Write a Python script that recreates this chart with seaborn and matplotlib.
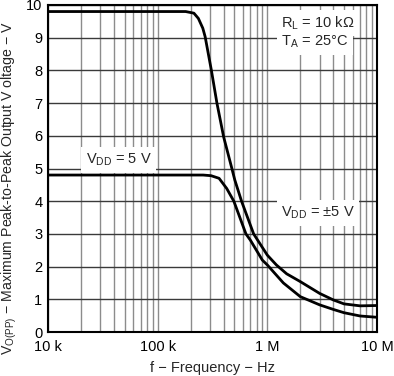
import numpy as np
import pandas as pd
import matplotlib.pyplot as plt
import seaborn as sns

# curve values (frequency in Hz, voltage in V)
# VDD = +/-5 V
freq_pm5 = [1e4, 5e4, 1.0e5, 1.8e5, 2.14e5, 2.35e5, 2.58e5, 2.71e5, 3.09e5, 3.47e5, 4.0e5,
            4.75e5, 5.05e5, 5.82e5, 7.5e5, 1.0e6, 1.21e6, 1.5e6, 2.0e6, 3.0e6, 4.0e6, 5.0e6,
            7.0e6, 1e7]
vpp_pm5 = [9.8, 9.8, 9.8, 9.8, 9.75, 9.59, 9.29, 9.03, 8.0, 7.0, 5.96,
           5.0, 4.65, 4.0, 3.0, 2.35, 2.05, 1.78, 1.54, 1.18, 0.98, 0.86,
           0.80, 0.81]

# VDD = 5 V
freq_5 = [1e4, 5e4, 1.0e5, 2.6e5, 3.07e5, 3.63e5, 4.26e5, 4.95e5, 6.38e5, 7.0e5, 9.0e5,
          1.0e6, 1.4e6, 2.0e6, 3.0e6, 4.0e6, 5.0e6, 7.0e6, 1e7]
vpp_5 = [4.8, 4.8, 4.8, 4.8, 4.78, 4.7, 4.39, 4.0, 3.0, 2.81, 2.2,
         2.05, 1.5, 1.08, 0.83, 0.69, 0.59, 0.49, 0.45]

df = pd.concat([
    pd.DataFrame({'f': freq_pm5, 'v': vpp_pm5, 'supply': 'pm5'}),
    pd.DataFrame({'f': freq_5, 'v': vpp_5, 'supply': '5'}),
])

sns.set_style('white')
plt.rcParams['font.family'] = ['Liberation Sans', 'DejaVu Sans']

fig = plt.figure(figsize=(3.94, 3.76), dpi=100)
ax = fig.add_axes([48 / 394, 1 - 332 / 376, 329 / 394, 327 / 376])

sns.lineplot(data=df, x='f', y='v', hue='supply', palette=['black', 'black'],
             linewidth=2, legend=False, ax=ax, sort=False, zorder=3)

ax.set_xscale('log')
ax.set_xlim(1e4, 1e7)
ax.set_ylim(0, 10)
ax.set_yticks(range(0, 11))
ax.set_xticks([1e4, 1e5, 1e6, 1e7])
ax.set_xticklabels(['10 k', '100 k', '1 M', '10 M'])
ax.xaxis.set_minor_locator(plt.matplotlib.ticker.LogLocator(base=10, subs=np.arange(2, 10)))
ax.xaxis.set_minor_formatter(plt.NullFormatter())
ax.grid(True, which='both', axis='x', color='#8c8c8c', linewidth=1)
ax.grid(True, which='major', axis='y', color='#3a3a3a', linewidth=1)
ax.tick_params(which='both', length=0, labelsize=10.5, colors='black')
ax.tick_params(axis='x', pad=6)
ax.tick_params(axis='y', pad=4)
for s in ax.spines.values():
    s.set_color('black')
    s.set_linewidth(1.5)

ax.set_xlabel('f − Frequency − Hz', fontsize=10.5, labelpad=5)
ax.set_ylabel('V$_{\\mathregular{O(PP)}}$ − Maximum Peak-to-Peak Output V oltage − V', fontsize=10.2)
ax.yaxis.set_label_coords(-0.088, 0.44)

box = dict(facecolor='white', edgecolor='none', pad=3)
ax.text(4.4e4, 5.26, 'V$_{\\mathregular{DD}}$ = 5 V', fontsize=10.5, ha='center', va='center', bbox=box, zorder=2)
ax.text(1.34e6, 9.44, 'R$_{\\mathregular{L}}$ = 10 kΩ', fontsize=10.5, ha='left', va='center', bbox=box, zorder=2)
ax.text(1.34e6, 8.87, 'T$_{\\mathregular{A}}$ = 25°C', fontsize=10.5, ha='left', va='center', bbox=box, zorder=2)
ax.text(1.34e6, 3.64, 'V$_{\\mathregular{DD}}$ = ±5 V', fontsize=10.5, ha='left', va='center', bbox=box, zorder=2)

fig.savefig('out.png', dpi=100)
